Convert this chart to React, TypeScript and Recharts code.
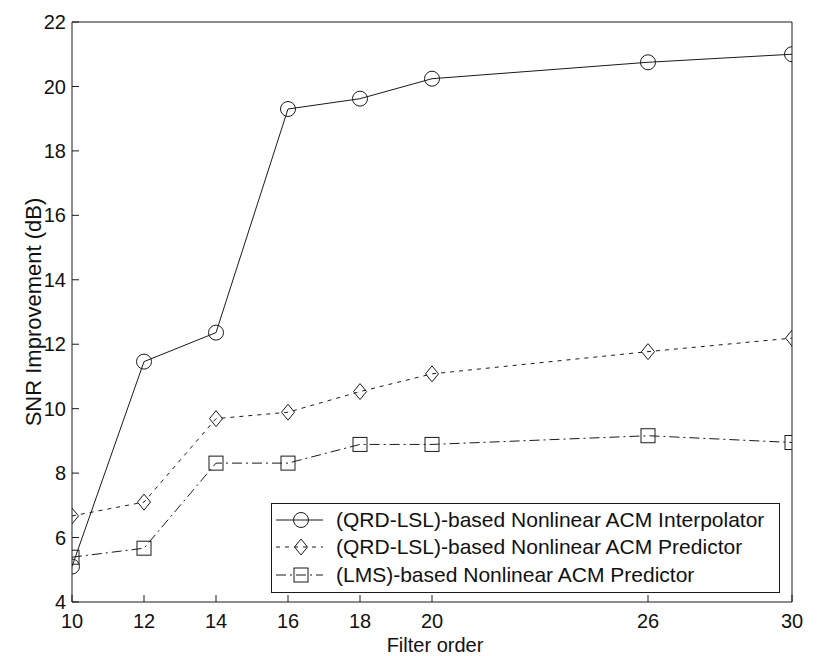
import React from 'react';
import { LineChart, Line, XAxis, YAxis, Legend } from 'recharts';

const filterOrders = [10, 12, 14, 16, 18, 20, 26, 30];
const interpolatorSnr = [5.1, 11.46, 12.36, 19.3, 19.62, 20.24, 20.75, 21.0];
const predictorSnr = [6.67, 7.1, 9.69, 9.89, 10.53, 11.08, 11.77, 12.19];
const lmsSnr = [5.39, 5.67, 8.31, 8.31, 8.89, 8.89, 9.16, 8.95];
const yTicks = [4, 6, 8, 10, 12, 14, 16, 18, 20, 22];
const seriesNames = [
  '(QRD-LSL)-based Nonlinear ACM Interpolator',
  '(QRD-LSL)-based Nonlinear ACM Predictor',
  '(LMS)-based Nonlinear ACM Predictor',
];

const INK = '#1a1a1a';
const FONT = '"Liberation Sans", Arial, sans-serif';
const DASHES = [undefined, '4 5', '10 4 2 4'];

const data = filterOrders.map((order, i) => ({
  order,
  interp: interpolatorSnr[i],
  pred: predictorSnr[i],
  lms: lmsSnr[i],
}));

type DotProps = { cx?: number; cy?: number };

const CircleDot = ({ cx = 0, cy = 0 }: DotProps) => (
  <circle cx={cx} cy={cy} r={7.5} fill="none" stroke={INK} strokeWidth={1} />
);

const DiamondDot = ({ cx = 0, cy = 0 }: DotProps) => (
  <polygon
    points={`${cx},${cy - 8} ${cx + 6.5},${cy} ${cx},${cy + 8} ${cx - 6.5},${cy}`}
    fill="none"
    stroke={INK}
    strokeWidth={1}
  />
);

const SquareDot = ({ cx = 0, cy = 0 }: DotProps) => (
  <rect x={cx - 7} y={cy - 7} width={14} height={14} fill="none" stroke={INK} strokeWidth={1} />
);

const markers = [CircleDot, DiamondDot, SquareDot];

const renderLegend = () => (
  <div
    style={{
      border: `1px solid ${INK}`,
      background: '#fff',
      width: 507,
      height: 86,
      paddingTop: 2,
      boxSizing: 'content-box',
      fontFamily: FONT,
      fontSize: 21,
      color: '#111',
    }}
  >
    {seriesNames.map((name, i) => {
      const Marker = markers[i];
      return (
        <div key={name} style={{ display: 'flex', alignItems: 'center', height: 27.5 }}>
          <svg width={60} height={24} style={{ display: 'block' }}>
            <line x1={4} y1={12} x2={51} y2={12} stroke={INK} strokeDasharray={DASHES[i]} />
            <Marker cx={29} cy={12} />
          </svg>
          <span style={{ marginLeft: 4, whiteSpace: 'nowrap' }}>{name}</span>
        </div>
      );
    })}
  </div>
);

export default function App() {
  const tickStyle = { fontSize: 20, fill: '#111', fontFamily: FONT };
  return (
    <div style={{ position: 'absolute', left: 0, top: 0, fontFamily: FONT, background: '#fff' }}>
      <LineChart width={822} height={656} data={data} margin={{ top: 0, right: 0, bottom: 0, left: 0 }}>
        <XAxis
          dataKey="order"
          type="number"
          domain={[10, 30]}
          ticks={filterOrders}
          allowDataOverflow
          height={54}
          stroke={INK}
          tickSize={-7}
          tickMargin={19}
          tick={tickStyle}
          label={{ value: 'Filter order', position: 'insideBottom', offset: 4, dx: 3, fontSize: 20, fill: '#111' }}
        />
        <XAxis
          xAxisId="top"
          orientation="top"
          type="number"
          domain={[10, 30]}
          ticks={filterOrders}
          allowDataOverflow
          height={22}
          stroke={INK}
          tickSize={-7}
          tick={false}
        />
        <YAxis
          type="number"
          domain={[4, 22]}
          ticks={yTicks}
          allowDataOverflow
          width={72}
          stroke={INK}
          tickSize={-7}
          tickMargin={13}
          tick={tickStyle}
          label={{
            value: 'SNR Improvement (dB)',
            angle: -90,
            position: 'insideLeft',
            offset: 23,
            dx: 10,
            fontSize: 22,
            fill: '#111',
            style: { textAnchor: 'middle' },
          }}
        />
        <YAxis
          yAxisId="right"
          orientation="right"
          type="number"
          domain={[4, 22]}
          ticks={yTicks}
          allowDataOverflow
          width={30}
          stroke={INK}
          tickSize={-7}
          tick={false}
        />
        <Line
          dataKey="interp"
          name={seriesNames[0]}
          stroke={INK}
          strokeWidth={1}
          dot={<CircleDot />}
          activeDot={false}
          isAnimationActive={false}
        />
        <Line
          dataKey="pred"
          name={seriesNames[1]}
          stroke={INK}
          strokeWidth={1}
          strokeDasharray={DASHES[1]}
          dot={<DiamondDot />}
          activeDot={false}
          isAnimationActive={false}
        />
        <Line
          dataKey="lms"
          name={seriesNames[2]}
          stroke={INK}
          strokeWidth={1}
          strokeDasharray={DASHES[2]}
          dot={<SquareDot />}
          activeDot={false}
          isAnimationActive={false}
        />
        <Legend
          layout="horizontal"
          verticalAlign="middle"
          align="center"
          content={renderLegend}
          wrapperStyle={{ left: 271, top: 503, width: 509, height: 88 }}
        />
      </LineChart>
    </div>
  );
}
